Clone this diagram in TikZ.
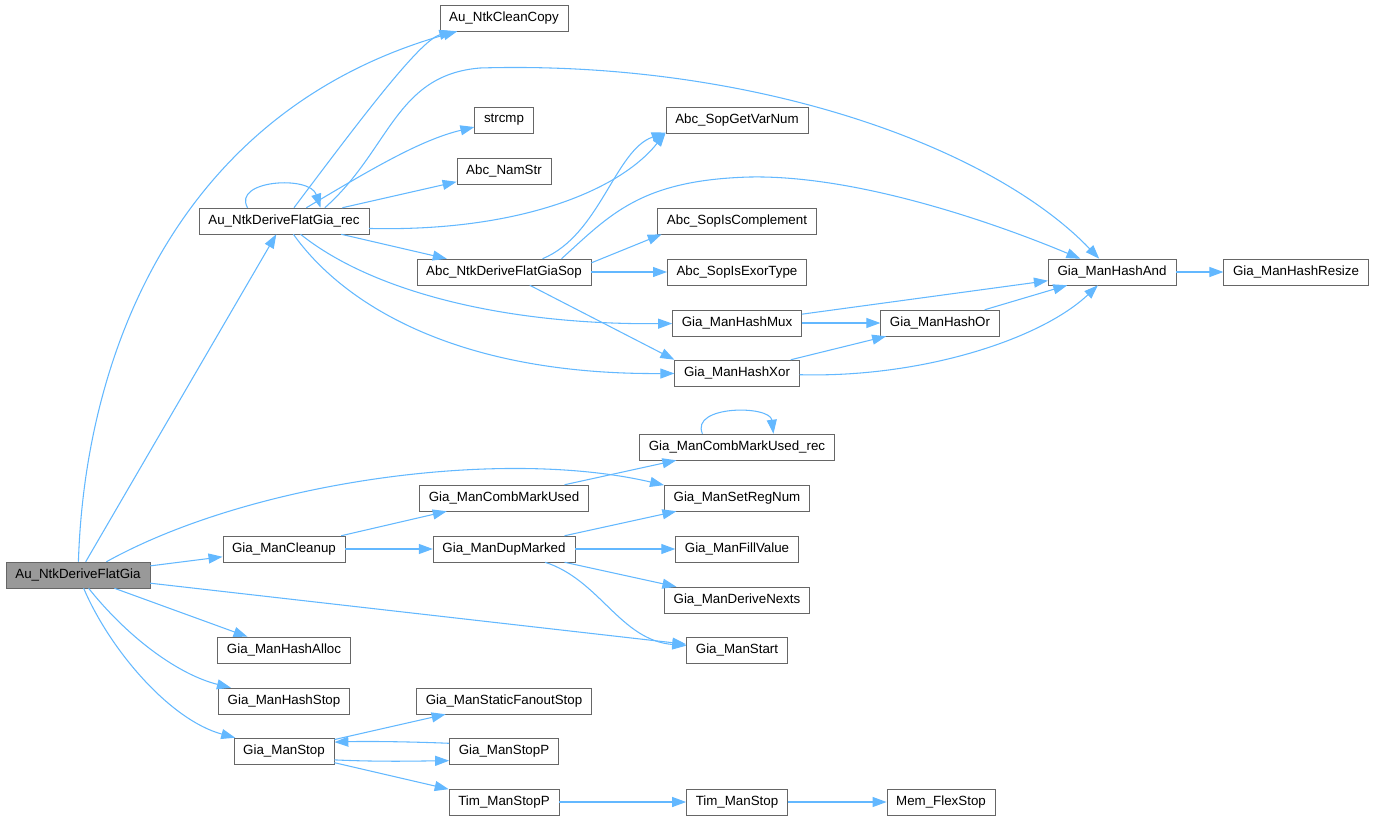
\documentclass[tikz,border=0pt]{standalone}
\usepackage{fontspec}
\setmainfont{Liberation Sans}
\usetikzlibrary{arrows.meta}

\definecolor{edgeblue}{HTML}{63B8FF}
\definecolor{boxgray}{HTML}{666666}
\definecolor{rootfill}{HTML}{999999}

\begin{document}
\begin{tikzpicture}[x=0.75pt, y=-0.75pt,
    fn/.style={draw=boxgray, fill=white, font=\fontsize{10}{12}\selectfont, inner xsep=7pt, inner ysep=0pt, minimum height=19.5pt},
    root/.style={fn, fill=rootfill},
    call/.style={edgeblue, line width=0.8pt, -{Triangle[length=10.5pt,width=7.5pt]}}]
    \useasboundingbox (0,0) rectangle (1374,821);

    % Funcio arrel
    \node[root] (flatgia) at (78,575) {Au\_NtkDeriveFlatGia};

    % Segona columna
    \node[fn] (flatrec) at (284,221) {Au\_NtkDeriveFlatGia\_rec};
    \node[fn] (cleanup) at (284,549) {Gia\_ManCleanup};
    \node[fn] (hashalloc) at (284,650) {Gia\_ManHashAlloc};
    \node[fn] (hashstop) at (284,701) {Gia\_ManHashStop};
    \node[fn] (manstop) at (284,751) {Gia\_ManStop};

    % Tercera columna
    \node[fn] (cleancopy) at (504,18) {Au\_NtkCleanCopy};
    \node[fn] (strcmp) at (504,120) {strcmp};
    \node[fn] (namstr) at (504,171) {Abc\_NamStr};
    \node[fn] (flatsop) at (504,272) {Abc\_NtkDeriveFlatGiaSop};
    \node[fn] (markused) at (504,498) {Gia\_ManCombMarkUsed};
    \node[fn] (dupmarked) at (504,549) {Gia\_ManDupMarked};
    \node[fn] (staticfanout) at (504,701) {Gia\_ManStaticFanoutStop};
    \node[fn] (manstopp) at (504,751) {Gia\_ManStopP};
    \node[fn] (timstopp) at (504,802) {Tim\_ManStopP};

    % Quarta columna
    \node[fn] (getvarnum) at (737,120) {Abc\_SopGetVarNum};
    \node[fn] (iscompl) at (737,221) {Abc\_SopIsComplement};
    \node[fn] (isexor) at (737,272) {Abc\_SopIsExorType};
    \node[fn] (hashmux) at (737,323) {Gia\_ManHashMux};
    \node[fn] (hashxor) at (737,373) {Gia\_ManHashXor};
    \node[fn] (markrec) at (737,447) {Gia\_ManCombMarkUsed\_rec};
    \node[fn] (setregnum) at (737,498) {Gia\_ManSetRegNum};
    \node[fn] (fillvalue) at (737,549) {Gia\_ManFillValue};
    \node[fn] (derivenexts) at (737,600) {Gia\_ManDeriveNexts};
    \node[fn] (manstart) at (737,650) {Gia\_ManStart};
    \node[fn] (timstop) at (737,802) {Tim\_ManStop};

    % Columnes de la dreta
    \node[fn] (hashor) at (940,323) {Gia\_ManHashOr};
    \node[fn] (flexstop) at (941,802) {Mem\_FlexStop};
    \node[fn] (hashand) at (1112,272) {Gia\_ManHashAnd};
    \node[fn] (hashresize) at (1296,272) {Gia\_ManHashResize};

    % --- CRIDES DE LA FUNCIO ARREL ---
    \draw[call] (flatgia) .. controls (85,350) and (180,110) .. (cleancopy);
    \draw[call] (flatgia) -- (flatrec);
    \draw[call] (flatgia.25) .. controls (250,482) and (500,447) .. (setregnum.170);
    \draw[call] (flatgia) -- (cleanup);
    \draw[call] (flatgia) -- (manstart);
    \draw[call] (flatgia) -- (hashalloc);
    \draw[call] (flatgia) .. controls (130,640) and (180,675) .. (hashstop);
    \draw[call] (flatgia) .. controls (110,650) and (170,720) .. (manstop);

    % --- Au_NtkDeriveFlatGia_rec ---
    \draw[call] (flatrec) .. controls (360,120) and (420,40) .. (cleancopy);
    \draw[call] (flatrec.160) .. controls (232,180) and (310,175) .. (flatrec.20); % recursiva
    \draw[call] (flatrec) .. controls (370,170) and (420,140) .. (strcmp);
    \draw[call] (flatrec) -- (namstr);
    \draw[call] (flatrec.18) .. controls (390,150) and (395,75) .. (480,68)
        .. controls (750,60) and (990,145) .. (hashand);
    \draw[call] (flatrec.-5) .. controls (520,232) and (620,190) .. (getvarnum.190);
    \draw[call] (flatrec) -- (flatsop);
    \draw[call] (flatrec) .. controls (370,290) and (500,325) .. (hashmux);
    \draw[call] (flatrec) .. controls (340,300) and (450,375) .. (hashxor);

    % --- Abc_NtkDeriveFlatGiaSop ---
    \draw[call] (flatsop.19) .. controls (600,235) and (615,150) .. (getvarnum.190);
    \draw[call] (flatsop.13) .. controls (610,215) and (640,180) .. (750,177)
        .. controls (860,175) and (1000,225) .. (hashand);
    \draw[call] (flatsop.6) -- (iscompl.190);
    \draw[call] (flatsop) -- (isexor);
    \draw[call] (flatsop) -- (hashxor.north west);

    % Hash
    \draw[call] (hashmux) -- (hashand);
    \draw[call] (hashmux) -- (hashor);
    \draw[call] (hashor) -- (hashand);
    \draw[call] (hashxor) -- (hashor);
    \draw[call] (hashxor) .. controls (920,378) and (1040,340) .. (hashand);
    \draw[call] (hashand) -- (hashresize);

    % --- Gia_ManCleanup ---
    \draw[call] (cleanup) -- (markused);
    \draw[call] (cleanup) -- (dupmarked);
    \draw[call] (markused) -- (markrec);
    \draw[call] (markrec.159) .. controls (690,405) and (770,405) .. (markrec.20); % recursiva
    \draw[call] (dupmarked) -- (setregnum);
    \draw[call] (dupmarked) -- (fillvalue);
    \draw[call] (dupmarked) -- (derivenexts);
    \draw[call] (dupmarked) .. controls (600,580) and (620,640) .. (manstart);

    % --- Gia_ManStop ---
    \draw[call] (manstop) -- (staticfanout);
    \draw[call] (manstop.-10) .. controls (380,762) and (420,761) .. (manstopp.190);
    \draw[call] (manstopp.172) .. controls (420,742) and (370,741) .. (manstop.10);
    \draw[call] (manstop) -- (timstopp);
    \draw[call] (timstopp) -- (timstop);
    \draw[call] (timstop) -- (flexstop);
\end{tikzpicture}
\end{document}
